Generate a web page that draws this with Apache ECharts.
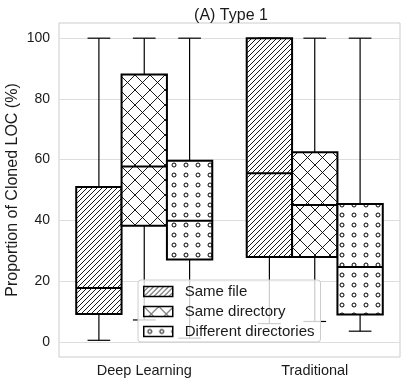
<!DOCTYPE html>
<html>
<head>
<meta charset="utf-8">
<script src="https://cdn.jsdelivr.net/npm/echarts@6/dist/echarts.min.js"></script>
<style>
  html, body { margin: 0; padding: 0; background: #fff; }
  #chart { width: 407px; height: 386px; }
</style>
</head>
<body>
<div id="chart"></div>
<script>
// box stats per category: [min, q1, median, q3, max]
const categories = ['Deep Learning', 'Traditional']
const seriesNames = ['Same file', 'Same directory', 'Different directories']
const sameFile = [[0.5, 9.2, 17.7, 51, 100], [6, 27.9, 55.5, 100, 100]]
const sameDirectory = [[7.2, 38.2, 57.7, 88, 100], [6.7, 27.9, 45.1, 62.4, 100]]
const differentDirectories = [[1.2, 27.1, 39.9, 59.6, 100], [3.5, 9.0, 24.6, 45.4, 100]]
const yTicks = [0, 20, 40, 60, 80, 100]

const FONT = '"Liberation Sans", Arial, sans-serif'
const TEXT = '#1a1a1a'

// hatch tiles
const makePattern = (kind) => {
  const c = document.createElement('canvas')
  const ctx = c.getContext('2d')
  if (kind === 'diag') {
    const s = 5
    c.width = s; c.height = s
    ctx.fillStyle = '#fff'; ctx.fillRect(0, 0, s, s)
    ctx.strokeStyle = '#000'; ctx.lineWidth = 0.9
    ctx.beginPath()
    ctx.moveTo(-1, s + 1); ctx.lineTo(s + 1, -1)
    ctx.moveTo(-1, 1); ctx.lineTo(1, -1)
    ctx.moveTo(s - 1, s + 1); ctx.lineTo(s + 1, s - 1)
    ctx.stroke()
  } else if (kind === 'cross') {
    const s = 15
    c.width = s; c.height = s
    ctx.fillStyle = '#fff'; ctx.fillRect(0, 0, s, s)
    ctx.strokeStyle = '#000'; ctx.lineWidth = 0.9
    ctx.beginPath()
    ctx.moveTo(0, 0); ctx.lineTo(s, s)
    ctx.moveTo(0, s); ctx.lineTo(s, 0)
    ctx.stroke()
  } else {
    c.width = 12; c.height = 10
    ctx.fillStyle = '#fff'; ctx.fillRect(0, 0, 12, 10)
    ctx.strokeStyle = '#000'; ctx.lineWidth = 1
    ctx.beginPath()
    ctx.arc(6, 5, 2, 0, Math.PI * 2)
    ctx.stroke()
  }
  return { image: c, repeat: 'repeat' }
}

const patterns = [makePattern('diag'), makePattern('cross'), makePattern('dots')]
const allData = [sameFile, sameDirectory, differentDirectories]

const chart = echarts.init(document.getElementById('chart'), null, { renderer: 'canvas' })

const makeSeries = (idx) => ({
  name: seriesNames[idx],
  type: 'custom',
  z: 2,
  itemStyle: { color: patterns[idx], borderColor: '#000' },
  encode: { x: 0, y: [1, 2, 3, 4, 5] },
  data: allData[idx].map((d, i) => [i, ...d]),
  renderItem: (params, api) => {
    const cat = api.value(0)
    const band = api.size([1, 0])[0]
    const w = band * 0.266
    const cx = api.coord([cat, 0])[0] + (idx - 1) * w
    const y = (k) => api.coord([cat, api.value(k)])[1]
    const yMin = y(1), yQ1 = y(2), yMed = y(3), yQ3 = y(4), yMax = y(5)
    const thin = { stroke: '#000', lineWidth: 1.2 }
    const thick = { stroke: '#000', lineWidth: 2 }
    return {
      type: 'group',
      children: [
        { type: 'line', shape: { x1: cx, y1: yMax, x2: cx, y2: yQ3 }, style: thin },
        { type: 'line', shape: { x1: cx, y1: yQ1, x2: cx, y2: yMin }, style: thin },
        { type: 'line', shape: { x1: cx - w / 4, y1: yMax, x2: cx + w / 4, y2: yMax }, style: thin },
        { type: 'line', shape: { x1: cx - w / 4, y1: yMin, x2: cx + w / 4, y2: yMin }, style: thin },
        {
          type: 'rect',
          shape: { x: cx - w / 2, y: yQ3, width: w, height: yQ1 - yQ3 },
          style: { fill: patterns[idx], stroke: '#000', lineWidth: 2 }
        },
        { type: 'line', shape: { x1: cx - w / 2, y1: yMed, x2: cx + w / 2, y2: yMed }, style: thick }
      ]
    }
  }
})

const option = {
  animation: false,
  backgroundColor: '#fff',
  textStyle: { fontFamily: FONT },
  title: {
    text: '(A) Type 1',
    left: 226,
    top: 3,
    textAlign: 'center',
    textStyle: { fontFamily: FONT, fontSize: 16, fontWeight: 'normal', color: TEXT }
  },
  grid: {
    left: 59, right: 7, top: 23, bottom: 29,
    containLabel: false,
    outerBoundsMode: 'none',
    show: true, borderColor: '#cccccc', borderWidth: 1
  },
  legend: {
    orient: 'vertical',
    left: 138,
    top: 280,
    padding: [4, 6, 3, 5],
    itemGap: 5,
    itemWidth: 29,
    itemHeight: 10,
    backgroundColor: 'rgba(255,255,255,0.8)',
    borderColor: '#cccccc',
    borderWidth: 1,
    borderRadius: 3,
    z: 10,
    textStyle: { fontFamily: FONT, fontSize: 15, color: TEXT, padding: [0, 0, 0, 7] },
    data: seriesNames.map((n, i) => ({
      name: n,
      icon: 'rect',
      itemStyle: { color: patterns[i], borderColor: '#000', borderWidth: 1.5 }
    }))
  },
  xAxis: {
    type: 'category',
    data: categories,
    axisLine: { show: false },
    axisTick: { show: false },
    splitLine: { show: false },
    axisLabel: { fontFamily: FONT, fontSize: 14.5, color: TEXT, margin: 6 }
  },
  yAxis: {
    type: 'value',
    min: -5,
    max: 105,
    name: 'Proportion of Cloned LOC (%)',
    nameLocation: 'middle',
    nameGap: 38,
    nameMoveOverlap: false,
    nameTextStyle: { fontFamily: FONT, fontSize: 16, color: TEXT },
    axisLine: { show: false },
    axisTick: { show: false, customValues: yTicks },
    axisLabel: { fontFamily: FONT, fontSize: 14, color: TEXT, margin: 9, customValues: yTicks },
    splitLine: { show: true, lineStyle: { color: '#dddddd', width: 1 } }
  },
  series: [0, 1, 2].map(makeSeries)
}

chart.setOption(option)
</script>
</body>
</html>
